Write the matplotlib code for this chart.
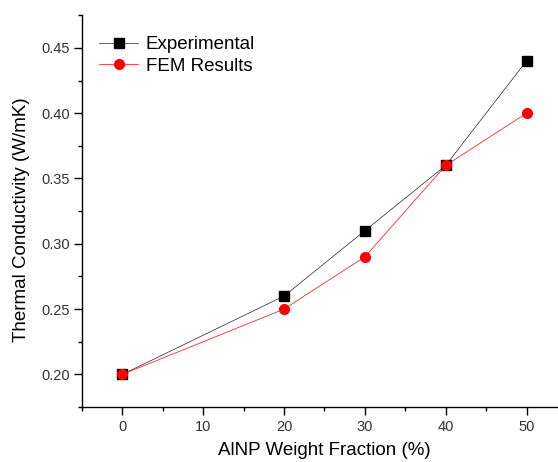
import matplotlib
matplotlib.use("Agg")
import matplotlib.pyplot as plt
from matplotlib.ticker import MultipleLocator

plt.rcParams["font.family"] = ["Liberation Sans", "DejaVu Sans"]

weight_fraction = [0, 20, 30, 40, 50]
experimental = [0.20, 0.26, 0.31, 0.36, 0.44]
fem_results = [0.20, 0.25, 0.29, 0.36, 0.40]

fig = plt.figure(figsize=(5.58, 4.62), dpi=100, facecolor="white")
ax = fig.add_axes([0.147, 0.119, 0.869, 0.848])

ax.plot(weight_fraction, experimental, color="#222222", lw=0.5, marker="s",
        markersize=6.5, markerfacecolor="black", markeredgecolor="black",
        label="Experimental", zorder=3)
ax.plot(weight_fraction, fem_results, color="red", lw=0.5, marker="o",
        markersize=7, label="FEM Results", zorder=4)

ax.set_xlim(-5, 55)
ax.set_ylim(0.175, 0.475)
ax.xaxis.set_major_locator(MultipleLocator(10))
ax.xaxis.set_minor_locator(MultipleLocator(5))
ax.yaxis.set_major_locator(MultipleLocator(0.05))
ax.yaxis.set_minor_locator(MultipleLocator(0.025))
ax.yaxis.set_major_formatter(lambda v, p: f"{v:.2f}")

for side in ("top", "right"):
    ax.spines[side].set_visible(False)
for side in ("left", "bottom"):
    ax.spines[side].set_linewidth(1.0)

ax.tick_params(which="major", direction="out", length=5.5, width=1.0,
               labelsize=10.5, colors="black", labelcolor="#333333")
ax.tick_params(which="minor", direction="out", length=3, width=1.0)

ax.set_xlabel("AlNP Weight Fraction (%)", fontsize=13.5, labelpad=6)
ax.set_ylabel("Thermal Conductivity (W/mK)", fontsize=13.5)
ax.yaxis.set_label_coords(-0.107, 0.477)

ax.legend(loc="upper left", bbox_to_anchor=(0.0, 0.99), frameon=False,
          fontsize=13.5, handlelength=2.1, handletextpad=0.4, labelspacing=0.25,
          borderaxespad=0.5)

fig.savefig("out.png", dpi=100, facecolor="white")
